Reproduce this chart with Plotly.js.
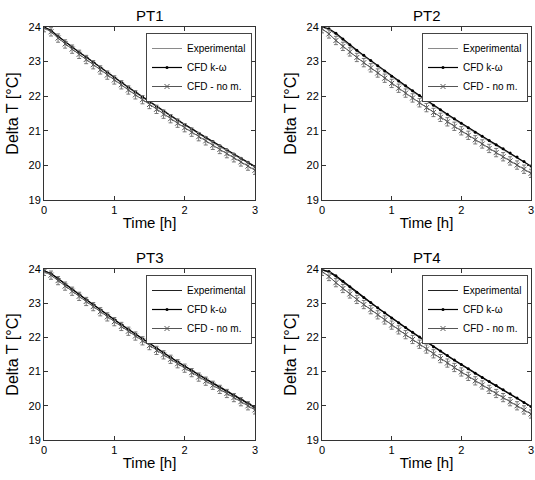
<!DOCTYPE html>
<html><head><meta charset="utf-8">
<script src="https://cdn.plot.ly/plotly-3.0.1.min.js"></script>
<style>html,body{margin:0;padding:0;background:#fff}#c{width:535px;height:480px}</style>
</head><body><div id="c"></div>
<script>
const t = [0,0.1,0.2,0.3,0.4,0.5,0.6,0.7,0.8,0.9,1.0,1.1,1.2,1.3,1.4,1.5,1.6,1.7,1.8,1.9,2.0,2.1,2.2,2.3,2.4,2.5,2.6,2.7,2.8,2.9,3.0];
const titles = ["PT1","PT2","PT3","PT4"];
const seriesNames = ["Experimental","CFD k-\u03c9","CFD - no m."];
const xTicks = [0,1,2,3];
const yTicks = [19,20,21,22,23,24];

const exp1 = [24.00,23.91,23.74,23.57,23.42,23.27,23.12,22.97,22.82,22.67,22.52,22.38,22.24,22.10,21.96,21.82,21.68,21.55,21.42,21.29,21.16,21.03,20.90,20.78,20.66,20.54,20.42,20.30,20.18,20.07,19.95];
const kw1  = [24.00,23.90,23.73,23.57,23.42,23.27,23.13,22.98,22.83,22.69,22.54,22.40,22.26,22.12,21.98,21.84,21.70,21.57,21.44,21.31,21.18,21.05,20.93,20.81,20.69,20.57,20.45,20.33,20.21,20.09,19.97];
const nm1  = [23.98,23.86,23.68,23.51,23.36,23.21,23.06,22.91,22.76,22.61,22.47,22.33,22.18,22.04,21.90,21.76,21.62,21.48,21.35,21.22,21.09,20.96,20.83,20.71,20.58,20.46,20.34,20.22,20.10,19.98,19.86];

const exp2 = [24.00,23.92,23.78,23.61,23.45,23.30,23.15,23.00,22.85,22.70,22.55,22.41,22.27,22.13,21.99,21.85,21.71,21.58,21.45,21.32,21.19,21.06,20.93,20.81,20.69,20.57,20.45,20.33,20.21,20.09,19.97];
const kw2  = [24.00,23.95,23.82,23.65,23.49,23.33,23.18,23.03,22.88,22.73,22.58,22.44,22.30,22.16,22.02,21.88,21.74,21.61,21.48,21.35,21.22,21.09,20.96,20.84,20.72,20.60,20.48,20.36,20.24,20.11,19.98];
const nm2  = [23.95,23.80,23.61,23.44,23.28,23.12,22.97,22.82,22.67,22.52,22.37,22.23,22.09,21.95,21.81,21.67,21.53,21.39,21.26,21.13,21.00,20.87,20.74,20.62,20.49,20.37,20.25,20.13,20.01,19.89,19.77];

const exp3 = [23.95,23.86,23.71,23.55,23.40,23.25,23.10,22.95,22.80,22.65,22.51,22.37,22.23,22.09,21.95,21.81,21.67,21.54,21.41,21.28,21.15,21.02,20.89,20.77,20.65,20.53,20.41,20.29,20.17,20.06,19.94];
const kw3  = [23.95,23.87,23.72,23.56,23.41,23.26,23.11,22.96,22.81,22.66,22.52,22.38,22.24,22.10,21.96,21.82,21.68,21.55,21.42,21.29,21.16,21.03,20.91,20.79,20.67,20.55,20.43,20.31,20.19,20.08,19.96];
const nm3  = [23.93,23.82,23.66,23.50,23.35,23.20,23.05,22.90,22.75,22.60,22.46,22.32,22.18,22.04,21.90,21.76,21.62,21.49,21.36,21.23,21.10,20.97,20.84,20.72,20.60,20.48,20.36,20.24,20.12,20.00,19.88];

const exp4 = [23.97,23.91,23.77,23.61,23.45,23.30,23.15,23.00,22.85,22.70,22.55,22.41,22.27,22.13,21.99,21.85,21.71,21.58,21.45,21.32,21.19,21.06,20.93,20.81,20.69,20.57,20.45,20.33,20.21,20.09,19.97];
const kw4  = [23.97,23.93,23.80,23.64,23.48,23.32,23.17,23.02,22.87,22.72,22.57,22.43,22.29,22.15,22.01,21.87,21.73,21.60,21.47,21.34,21.21,21.08,20.95,20.83,20.71,20.59,20.47,20.35,20.23,20.10,19.98];
const nm4  = [23.93,23.78,23.60,23.43,23.27,23.11,22.96,22.81,22.66,22.51,22.36,22.22,22.08,21.94,21.80,21.66,21.52,21.38,21.25,21.12,20.99,20.86,20.73,20.61,20.48,20.36,20.24,20.12,20.00,19.88,19.76];
const errNm = 0.12;

const expS = [exp1,exp2,exp3,exp4];
const kwS = [kw1,kw2,kw3,kw4];
const nmS = [nm1,nm2,nm3,nm4];
const expColors = ["#8a8a8a","#8a8a8a","#222222","#222222"];

const W = 535, H = 480;
const boxes = [
  {x0:44, x1:255, y0:27, y1:200},
  {x0:322, x1:531, y0:27, y1:200},
  {x0:44, x1:255, y0:269, y1:440},
  {x0:322, x1:531, y0:269, y1:440}
];
const F = "Arial, 'Liberation Sans', sans-serif";
const traces = [];
const layout = {
  width: W, height: H, margin:{l:0,r:0,t:0,b:0}, paper_bgcolor:"#fff", plot_bgcolor:"#fff",
  font:{family:F, size:11, color:"#000"}, showlegend:true, annotations:[]
};
for (let i=0;i<4;i++){
  const sfx = i===0 ? "" : String(i+1);
  const xa = "x"+sfx, ya = "y"+sfx, lg = "legend"+sfx;
  const b = boxes[i];
  traces.push({x:t, y:expS[i], xaxis:xa, yaxis:ya, legend:lg, name:seriesNames[0], mode:"lines",
    line:{color:expColors[i], width:1}});
  traces.push({x:t, y:kwS[i], xaxis:xa, yaxis:ya, legend:lg, name:seriesNames[1], mode:"lines+markers",
    line:{color:"#000", width:1.2}, marker:{symbol:"circle", size:3, color:"#000"}});
  traces.push({x:t, y:nmS[i], xaxis:xa, yaxis:ya, legend:lg, name:seriesNames[2], mode:"lines+markers",
    line:{color:"#555", width:1},
    marker:{symbol:"x-thin-open", size:5, color:"#555", line:{width:1, color:"#555"}},
    error_y:{type:"constant", value:errNm, color:"#777", thickness:1, width:2}});
  const axBase = {showline:true, mirror:"ticks", linecolor:"#333", linewidth:1, ticks:"inside", ticklen:4,
    tickcolor:"#333", showgrid:false, zeroline:false, ticklabeloverflow:"allow",
    tickfont:{family:F, size:11, color:"#000"}};
  layout["xaxis"+sfx] = Object.assign({}, axBase, {domain:[b.x0/W, b.x1/W], anchor:ya, range:[0,3],
    tickvals:xTicks, ticktext:xTicks.map(String),
    title:{text:"Time [h]", font:{family:F, size:15}, standoff:2}});
  layout["yaxis"+sfx] = Object.assign({}, axBase, {domain:[1-b.y1/H, 1-b.y0/H], anchor:xa, range:[19,24],
    tickvals:yTicks, ticktext:yTicks.map(String),
    title:{text:"Delta T [\u00b0C]", font:{family:F, size:16}, standoff:5}});
  layout[lg] = {x:(b.x1-3)/W, y:1-(b.y0+6)/H, xanchor:"right", yanchor:"top", bgcolor:"#fff",
    bordercolor:"#444", borderwidth:1, font:{family:F, size:10, color:"#000"}, tracegroupgap:0,
    itemwidth:30};
  layout.annotations.push({text:titles[i], xref:"paper", yref:"paper", x:(b.x0+b.x1)/2/W, y:1-(b.y0-12)/H,
    xanchor:"center", yanchor:"middle", showarrow:false, font:{family:F, size:15, color:"#000"}});
}
Plotly.newPlot("c", traces, layout, {displayModeBar:false, staticPlot:true});
</script></body></html>
